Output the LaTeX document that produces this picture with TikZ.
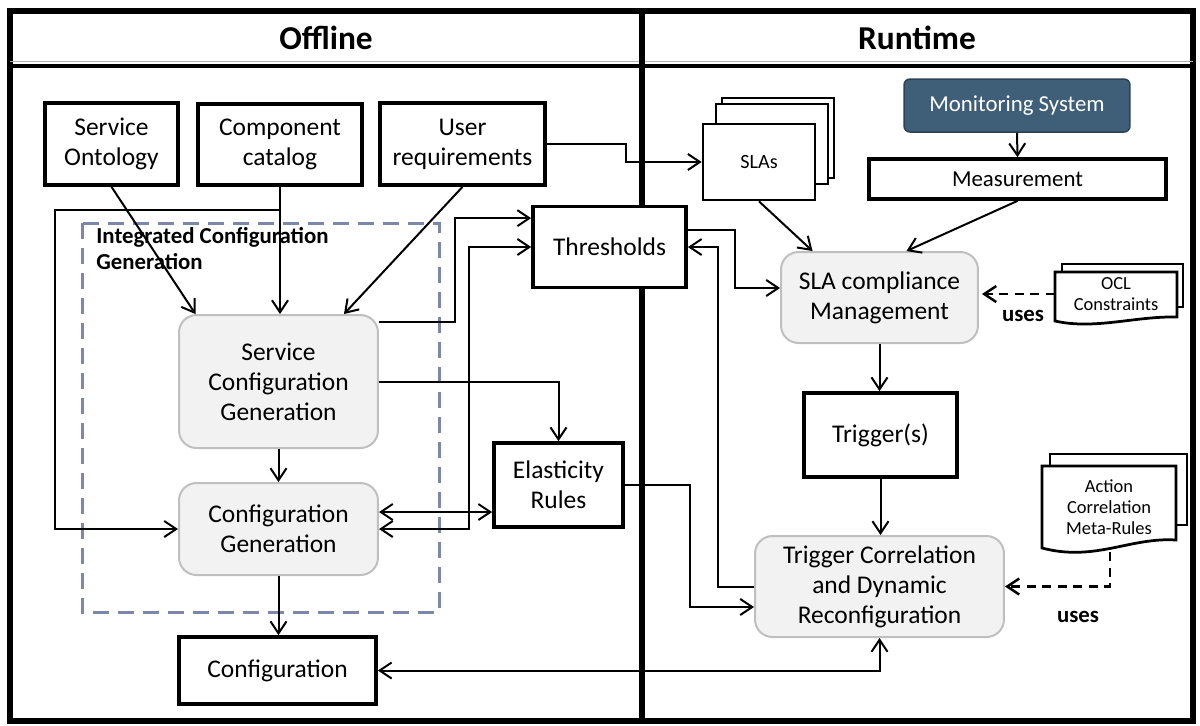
\documentclass[tikz,border=0pt]{standalone}
\usepackage{fontspec}
\setmainfont{Carlito}
\usetikzlibrary{arrows.meta,calc}
\definecolor{boxgray}{RGB}{242,242,242}
\definecolor{edgegray}{RGB}{191,191,191}
\definecolor{monblue}{RGB}{63,94,120}
\definecolor{monedge}{RGB}{45,65,85}
\definecolor{dashblue}{RGB}{125,135,170}
\newcommand\boxfont{\fontsize{14.5}{17}\selectfont}
\newcommand\headfont{\fontsize{19}{22}\selectfont\bfseries}
\newcommand\groupfont{\fontsize{13}{15}\selectfont\bfseries}
\newcommand\midfont{\fontsize{13}{15}\selectfont}
\newcommand\slafont{\fontsize{11.5}{13}\selectfont}
\newcommand\docfont{\fontsize{10.5}{12}\selectfont}
\newcommand\usesfont{\fontsize{13}{15}\selectfont\bfseries}

\begin{document}
\begin{tikzpicture}[x=0.02cm, y=-0.02cm,
                box/.style={draw, line width=0.075cm, fill=white, align=center, inner sep=2pt, font=\boxfont},
                gbox/.style={draw=edgegray, fill=boxgray, line width=0.04cm, rounded corners=0.35cm, align=center, font=\boxfont},
                page/.style={draw, line width=0.055cm, fill=white},
                arr/.style={line width=0.04cm, -{Straight Barb[length=2.4mm,width=3.2mm]}},
                dbl/.style={line width=0.04cm, {Straight Barb[length=2.4mm,width=3.2mm]}-{Straight Barb[length=2.4mm,width=3.2mm]}},
                dsh/.style={arr, line width=0.05cm, dash pattern=on 0.18cm off 0.13cm}]
                \useasboundingbox (0,0) rectangle (1200,725);
                \draw[line width=0.13cm] (10,11) rectangle (1193,721);
                \draw[gray!60, line width=0.02cm] (10,61) -- (1193,61);
                \draw[line width=0.09cm] (10,66) -- (1193,66);
                \draw[line width=0.13cm] (642,11) -- (642,721);
                \node[font=\headfont] (offline) at (326,38) {Offline};
                \node[font=\headfont] (runtime) at (917,38) {Runtime};

                \draw[dashblue, line width=0.06cm, dash pattern=on 0.32cm off 0.18cm] (82,223) rectangle (439,612);
                \node[font=\groupfont, anchor=north west, align=left, inner sep=0pt] (groupname) at (96,227) {Integrated Configuration\\Generation};

                \node[box, minimum width=2.66cm, minimum height=1.64cm] (onto) at (111.5,144) {Service\\Ontology};
                \node[box, minimum width=3.28cm, minimum height=1.62cm] (catalog) at (280,144.5) {Component\\catalog};
                \node[box, minimum width=3.30cm, minimum height=1.64cm] (userreq) at (462.5,144) {User\\requirements};
                \node[gbox, minimum width=3.98cm, minimum height=2.66cm] (servgen) at (278.5,381.5) {Service\\Configuration\\Generation};
                \node[gbox, minimum width=3.98cm, minimum height=1.84cm] (confgen) at (278.5,529) {Configuration\\Generation};
                \node[box, minimum width=3.94cm, minimum height=1.34cm] (config) at (277.5,670.5) {Configuration};
                \node[box, minimum width=3.06cm, minimum height=1.62cm] (thresh) at (609.5,247) {Thresholds};
                \node[box, minimum width=2.58cm, minimum height=1.68cm] (elast) at (558.5,485) {Elasticity\\Rules};

                \draw[page] (722,98) rectangle (834,178);
                \draw[page] (716,104) rectangle (828,184);
                \node[page, minimum width=2.24cm, minimum height=1.52cm, font=\slafont] (slas) at (759,162) {SLAs};
                \node[draw=monedge, fill=monblue, text=white, rounded corners=0.12cm, line width=0.03cm, minimum width=4.52cm, minimum height=1.06cm, font=\midfont] (monitor) at (1017,105.5) {Monitoring System};
                \node[box, font=\midfont, minimum width=5.94cm, minimum height=0.8cm] (measure) at (1017.5,179) {Measurement};
                \node[gbox, minimum width=3.94cm, minimum height=1.82cm] (slacomp) at (879.5,297.5) {SLA compliance\\Management};
                \node[box, minimum width=3.06cm, minimum height=1.68cm] (trigger) at (880.5,435) {Trigger(s)};
                \node[gbox, minimum width=4.98cm, minimum height=2.02cm] (trigcorr) at (879.5,586.5) {Trigger Correlation\\and Dynamic\\Reconfiguration};

                \draw[page] (1062,264) rectangle (1183,307);
                \draw[page] (1055,321) -- (1055,272) -- (1177,272) -- (1177,317) .. controls (1135,316) and (1095,330) .. (1055,321) -- cycle;
                \node[minimum width=2.44cm, minimum height=0.9cm, align=center, font=\docfont] (ocl) at (1116,294) {OCL\\Constraints};
                \draw[page] (1050,454) rectangle (1187,525);
                \draw[page] (1042,548) -- (1042,466) -- (1176,466) -- (1176,540) .. controls (1130,537) and (1095,562) .. (1042,548) -- cycle;
                \node[minimum width=2.68cm, minimum height=1.48cm, align=center, font=\docfont] (rules) at (1109,507) {Action\\Correlation\\Meta-Rules};

                \draw[arr] (onto.south) -- ([xshift=-1.66cm]servgen.north);
                \draw[arr] (catalog.south) -- (catalog.south |- servgen.north);
                \draw[arr] (userreq.south) -- ([xshift=1.31cm]servgen.north);
                \coordinate (split) at ($(catalog.south)+(0,23)$);
                \draw[arr] (split) -- ++(-225,0) |- (confgen.west);
                \draw[arr] (servgen.south) -- (confgen.north);
                \draw[arr] (confgen.south) -- (confgen.south |- config.north);
                \draw[arr] ($(servgen.north east)+(0,8)$) -- ++(76,0) |- ($(thresh.north west)+(0,13.5)$);
                \draw[dbl] (confgen.east) -- ++(90,0) |- (thresh.west);
                \draw[arr] (servgen.east) -| (elast.north);
                \coordinate (elin) at ($(elast.west)+(0,27)$);
                \draw[dbl] (elin -| confgen.east) -- (elin);
                \draw[arr] (elast.east) -- ++(65,0) |- ($(trigcorr.west)+(0,20.5)$);
                \draw[arr] (trigcorr.west) -- ++(-36,0) |- (thresh.east);
                \draw[arr] ($(thresh.north east)+(0,25.5)$) -- ++(47,0) |- ($(slacomp.west)+(0,-9.5)$);
                \draw[arr] (userreq.east) -- ++(79,0) |- (slas.west);
                \draw[arr] (slas.south) -- ($(slacomp.north)+(-67,0)$);
                \draw[arr] (monitor.south) -- (measure.north);
                \draw[arr] (measure.south) -- ($(slacomp.north)+(27,0)$);
                \draw[arr] (slacomp.south) -- (slacomp.south |- trigger.north);
                \draw[arr] (trigger.south) -- (trigger.south |- trigcorr.north);
                \draw[dbl] (config.east) -| (trigcorr.south);
                \draw[dsh, shorten >=0.06cm] (ocl.west) -- (ocl.west -| slacomp.east);
                \node[font=\usesfont] (uses1) at (1023,316) {uses};
                \draw[dsh] ($(rules.south)+(1,8)$) |- (trigcorr.east);
                \node[font=\usesfont] (uses2) at (1078,617) {uses};
            \end{tikzpicture}
\end{document}
